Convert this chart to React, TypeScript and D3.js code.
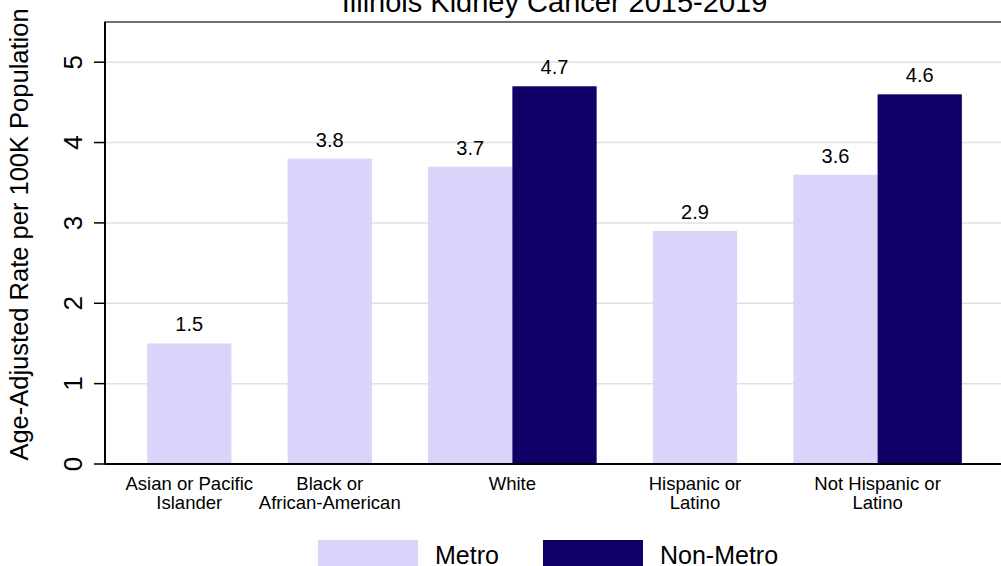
import React from "react";
import * as d3 from "d3";

const title = "Illinois Kidney Cancer 2015-2019";
const yTitle = "Age-Adjusted Rate per 100K Population";
const groupLabels = [
  ["Asian or Pacific", "Islander"],
  ["Black or", "African-American"],
  ["White"],
  ["Hispanic or", "Latino"],
  ["Not Hispanic or", "Latino"],
];
const seriesNames = ["Metro", "Non-Metro"];
const metroValues = [1.5, 3.8, 3.7, 2.9, 3.6];
const nonMetroValues = [null, null, 4.7, null, 4.6];
const yTicks = [0, 1, 2, 3, 4, 5];
const colors = ["#d9d5fa", "#0e0066"];

const W = 1001;
const H = 566;
const plot = { left: 105, right: 1004, top: 22, bottom: 464 };
const font = "'Liberation Sans', Arial, Helvetica, sans-serif";

const App: React.FC = () => {
  const y = d3.scaleLinear().domain([0, 5.5]).range([plot.bottom, plot.top]);

  // bar slots in units of one bar width: outer gap, groups, inner gaps
  const outer = 0.5;
  const gap = 0.667;
  const bars: { g: number; s: number; v: number; u: number }[] = [];
  const groupCenters: number[] = [];
  let u = outer;
  groupLabels.forEach((_, g) => {
    const start = u;
    [metroValues[g], nonMetroValues[g]].forEach((v, s) => {
      if (v == null) return;
      bars.push({ g, s, v, u });
      u += 1;
    });
    groupCenters.push((start + u) / 2);
    if (g < groupLabels.length - 1) u += gap;
  });
  const total = u + outer;
  const x = d3.scaleLinear().domain([0, total]).range([plot.left, plot.right]);
  const bw = x(1) - x(0);

  return (
    <svg
      width={W}
      height={H}
      style={{ position: "absolute", left: 0, top: 0, background: "#fff" }}
      fontFamily={font}
    >
      {/* gridlines */}
      {yTicks.filter((t) => t > 0).map((t) => (
        <line key={t} x1={plot.left} x2={plot.right} y1={y(t)} y2={y(t)} stroke="#e0e0e0" strokeWidth={1.5} />
      ))}
      {/* plot frame */}
      <rect
        x={plot.left}
        y={plot.top}
        width={plot.right - plot.left}
        height={plot.bottom - plot.top}
        fill="none"
        stroke="#404040"
        strokeWidth={1.5}
      />
      {/* bars */}
      {bars.map((b) => (
        <rect
          key={`${b.g}-${b.s}`}
          x={x(b.u)}
          y={y(b.v)}
          width={bw}
          height={y(0) - y(b.v)}
          fill={colors[b.s]}
        />
      ))}
      {bars.map((b) => (
        <text
          key={`l${b.g}-${b.s}`}
          x={x(b.u + 0.5)}
          y={y(b.v) - 12}
          textAnchor="middle"
          fontSize={20}
          fill="#000"
        >
          {b.v.toFixed(1)}
        </text>
      ))}
      {/* axes */}
      <line x1={plot.left} x2={plot.left} y1={plot.top} y2={plot.bottom} stroke="#000" strokeWidth={2} />
      <line x1={plot.left} x2={plot.right} y1={plot.bottom} y2={plot.bottom} stroke="#000" strokeWidth={2} />
      {yTicks.map((t) => (
        <g key={t}>
          <line x1={plot.left - 11} x2={plot.left} y1={y(t)} y2={y(t)} stroke="#000" strokeWidth={1.5} />
          <text
            transform={`translate(82,${y(t)}) rotate(-90)`}
            textAnchor="middle"
            fontSize={26}
            fill="#000"
          >
            {t}
          </text>
        </g>
      ))}
      {groupLabels.map((lines, g) => (
        <text key={g} x={x(groupCenters[g])} y={490} textAnchor="middle" fontSize={18.5} fill="#000">
          {lines.map((ln, i) => (
            <tspan key={i} x={x(groupCenters[g])} dy={i === 0 ? 0 : 18.5}>
              {ln}
            </tspan>
          ))}
        </text>
      ))}
      {/* titles */}
      <text x={(plot.left + plot.right) / 2} y={12} textAnchor="middle" fontSize={29} fill="#000">
        {title}
      </text>
      <text transform="translate(28,234.5) rotate(-90)" textAnchor="middle" fontSize={25.5} fill="#000">
        {yTitle}
      </text>
      {/* legend */}
      {seriesNames.map((name, i) => (
        <g key={name} transform={`translate(${318 + i * 225},540)`}>
          <rect x={0} y={0} width={100} height={30} fill={colors[i]} />
          <text x={117} y={23.5} fontSize={25} fill="#000">
            {name}
          </text>
        </g>
      ))}
    </svg>
  );
};

export default App;
